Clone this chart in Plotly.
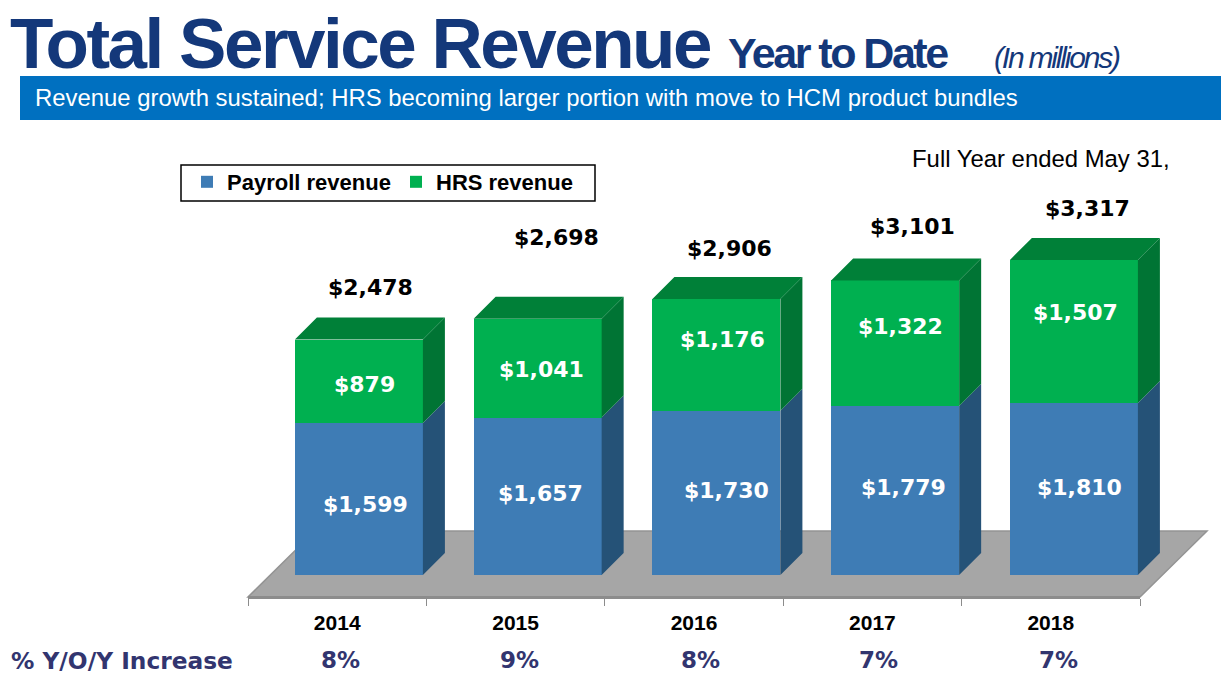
import plotly.graph_objects as go

# ---- data ----
years = ["2014", "2015", "2016", "2017", "2018"]
payroll = [1599, 1657, 1730, 1779, 1810]
hrs = [879, 1041, 1176, 1322, 1507]
totals = [2478, 2698, 2906, 3101, 3317]
growth = ["8%", "9%", "8%", "7%", "7%"]

# ---- label nudges (px) as placed on the original slide ----
payroll_dx = [7, 3, 10, 8, 6]
payroll_dy = [-5, 3, 2, 3, 2]
hrs_dx = [6, 4, 6, 5, 2]
hrs_dy = [-3, -1, 15, 17, 19]
total_dx = [12, 19, 13, 17, 14]
total_dy = [52, 81, 50, 54, 51]
growth_dx = [3, 4, 6, 6, 8]

# ---- styling ----
W, H = 1224, 684
PITCH = 178.75      # px per category
K = 0.095           # px per $M
X0 = 358.9          # px centre of first bar
Y0 = 575            # px of value 0
BAR_W = 128 / PITCH
DEPTH = 22
DX = DEPTH / PITCH
DY = DEPTH / K

BLUE, BLUE_SIDE = "#3E7CB5", "#255277"
GREEN, GREEN_SIDE, GREEN_TOP = "#00B050", "#007434", "#008038"
NAVY, BAND, PCT = "#14387A", "#0070C0", "#32356F"
SANS, WIDE = "Liberation Sans", "DejaVu Sans"


def px(x):
    return x / W


def py(y):
    return 1 - y / H


def dx_val(x):
    return (x - X0) / PITCH


def dy_val(y):
    return (Y0 - y) / K


fig = go.Figure()

# stacked front faces
fig.add_bar(x=list(range(5)), y=payroll, width=BAR_W, name="Payroll revenue",
            marker=dict(color=BLUE, line_width=0), xaxis="x", yaxis="y")
fig.add_bar(x=list(range(5)), y=hrs, width=BAR_W, name="HRS revenue",
            marker=dict(color=GREEN, line_width=0), xaxis="x", yaxis="y")


# 3-D side and top faces derived from the values
def faces(lo, hi, kind):
    xs, ys = [], []
    for i, (a, b) in enumerate(zip(lo, hi)):
        l, r = i - BAR_W / 2, i + BAR_W / 2
        if kind == "side":
            xs += [r, r + DX, r + DX, r, r, None]
            ys += [a, a + DY, b + DY, b, a, None]
        else:
            xs += [l, l + DX, r + DX, r, l, None]
            ys += [b, b + DY, b + DY, b, b, None]
    return xs, ys


zeros = [0] * 5
stack = [p + h for p, h in zip(payroll, hrs)]
for (lo, hi, kind, col) in [
    (zeros, payroll, "side", BLUE_SIDE),
    (payroll, stack, "side", GREEN_SIDE),
    (payroll, stack, "top", GREEN_TOP),
]:
    xs, ys = faces(lo, hi, kind)
    fig.add_scatter(x=xs, y=ys, mode="lines", fill="toself", fillcolor=col,
                    line=dict(width=0, color=col), showlegend=False,
                    hoverinfo="skip", xaxis="x", yaxis="y")

# invisible trace that carries the category axis
fig.add_scatter(x=years, y=[0] * 5, mode="markers", marker=dict(opacity=0),
                showlegend=False, hoverinfo="skip", xaxis="x2", yaxis="y")

ann = []


def label(text, x, y, size, color, family=SANS, bold=False, italic=False,
          xref="paper", yref="paper", xanchor="center", align="center", xshift=0, yshift=0):
    ann.append(dict(text=text, x=x, y=y, xref=xref, yref=yref, showarrow=False,
                    xanchor=xanchor, yanchor="middle", align=align,
                    xshift=xshift, yshift=yshift,
                    font=dict(family=family, size=size, color=color,
                              weight="bold" if bold else "normal",
                              style="italic" if italic else "normal")))


# titles
label("Total Service Revenue", px(8), py(43), 71, NAVY, bold=True, xanchor="left", align="left")
label("Year to Date", px(726), py(53), 43, NAVY, bold=True, xanchor="left", align="left")
label("(In millions)", px(992), py(57), 30, NAVY, italic=True, xanchor="left", align="left")
label("Revenue growth sustained; HRS becoming larger portion with move to HCM product bundles",
      px(33), py(98), 23.9, "#FFFFFF", xanchor="left", align="left")
label("Full Year ended May 31,", px(910), py(159), 23.9, "#000000", xanchor="left", align="left")

# value labels
for i in range(5):
    label(f"${payroll[i]:,}", i, payroll[i] / 2, 22, "#FFFFFF", WIDE, True,
          xref="x", yref="y", xshift=payroll_dx[i], yshift=payroll_dy[i])
    label(f"${hrs[i]:,}", i, payroll[i] + hrs[i] / 2, 22, "#FFFFFF", WIDE, True,
          xref="x", yref="y", xshift=hrs_dx[i], yshift=hrs_dy[i])
    label(f"${totals[i]:,}", i, totals[i], 22, "#000000", WIDE, True,
          xref="x", yref="y", xshift=total_dx[i], yshift=total_dy[i])
    # on a category axis an annotation is placed by the category's index
    label(growth[i], i, py(660), 23, PCT, WIDE, True,
          xref="x2", xshift=growth_dx[i])
label("% Y/O/Y Increase", px(9), py(660), 23.3, PCT, WIDE, True, xanchor="left", align="left")

shapes = [
    # floor, behind the bars
    dict(type="path", layer="below", xref="x", yref="y",
         path=(f"M{dx_val(248)},{dy_val(597)} L{dx_val(1140)},{dy_val(597)} "
               f"L{dx_val(1207)},{dy_val(531)} L{dx_val(315)},{dy_val(531)} Z"),
         fillcolor="#A6A6A6", line=dict(color="#949494", width=1.5)),
    # header band
    dict(type="rect", layer="below", xref="paper", yref="paper",
         x0=px(20), x1=px(1221), y0=py(120), y1=py(76), fillcolor=BAND, line_width=0),
    # legend box
    dict(type="rect", layer="below", xref="paper", yref="paper",
         x0=px(181), x1=px(595), y0=py(201), y1=py(165), fillcolor="#FFFFFF",
         line=dict(color="#000000", width=1.5)),
]

fig.update_layout(
    width=W, height=H, autosize=False, margin=dict(l=0, r=0, t=0, b=0, pad=0),
    paper_bgcolor="#FFFFFF", plot_bgcolor="rgba(0,0,0,0)",
    barmode="stack", bargap=0, annotations=ann, shapes=shapes, hovermode=False,
    xaxis=dict(domain=[0, 1], range=[dx_val(0), dx_val(W)], visible=False, fixedrange=True),
    yaxis=dict(domain=[0, 1], range=[dy_val(H), dy_val(0)], visible=False, fixedrange=True),
    xaxis2=dict(domain=[px(248), px(1140)], type="category", categoryorder="array",
                categoryarray=years, range=[-0.5, 4.5], anchor="free", position=py(597),
                side="bottom", showgrid=False, zeroline=False, showline=True,
                linecolor="#8C8C8C", linewidth=3, tickangle=0,
                ticks="outside", ticklen=7, tickwidth=1, tickcolor="#8C8C8C", tickson="boundaries",
                ticklabelstandoff=6,
                tickfont=dict(family=SANS, size=21, color="#000000", weight="bold"),
                fixedrange=True),
    legend=dict(orientation="h", x=px(187), y=py(182), xanchor="left", yanchor="middle",
                bgcolor="rgba(0,0,0,0)", borderwidth=0, traceorder="normal",
                entrywidth=164, entrywidthmode="pixels",
                font=dict(family=SANS, size=22, color="#000000", weight="bold")),
)

post = """
document.body.style.margin = '0';
document.body.style.overflow = 'hidden';
var sp = {'Total Service Revenue': '-2.5px', 'Year to Date': '-2.5px', '(In millions)': '-2.2px'};
document.querySelectorAll('.annotation-text').forEach(function (t) {
  var s = sp[t.textContent];
  if (s) { t.style.letterSpacing = s; }
});
"""
fig.write_html("out.html", post_script=post, config={"displayModeBar": False})
